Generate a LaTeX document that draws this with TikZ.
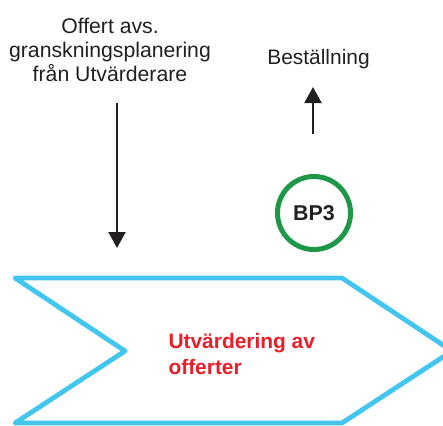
\documentclass[tikz,border=0pt]{standalone}
\usepackage{fontspec}
\setmainfont{Liberation Sans}
\usetikzlibrary{arrows.meta}
\definecolor{chevblue}{RGB}{66,198,240}
\definecolor{bpgreen}{RGB}{30,152,72}
\definecolor{titlered}{RGB}{232,30,40}
\definecolor{ink}{RGB}{35,31,32}
\tikzset{
  flow arrow/.style={draw=ink, line width=2.1pt, -{Triangle[width=17bp,length=16bp]}},
  milestone/.style={circle, draw=bpgreen, line width=5bp, minimum size=73bp, inner sep=0pt,
    font=\fontsize{21.5}{24}\selectfont\bfseries, text=ink},
  stage/.style={draw=chevblue, line width=4.8bp, line join=round}
}
\begin{document}
\begin{tikzpicture}[x=1bp,y=-1bp]
\useasboundingbox (0,0) rectangle (443,425);
\begin{scope}
\clip (0,0) rectangle (443,425);
% process stage chevron
\draw[stage] (15,278) -- (342,278) -- (452,351) -- (342,423) -- (15,423) -- (125,351) -- cycle;
\end{scope}
\node[font=\fontsize{21}{27}\selectfont\bfseries, text=titlered, align=left, anchor=west] (stg) at (165,354) {Utvärdering av\\offerter};

% incoming offer
\node[font=\fontsize{21.3}{24.5}\selectfont, text=ink, align=center] (offer) at (110,50) {Offert avs.\\granskningsplanering\\från Utvärderare};
\coordinate (offertop) at (117,103);
\coordinate (offerin) at (117,248);
\draw[flow arrow] (offertop) -- (offerin);

% milestone and order
\node[milestone] (bp3) at (314,213) {BP3};
\node[font=\fontsize{21}{24}\selectfont, text=ink, anchor=base] (order) at (318.5,64) {Beställning};
\coordinate (orderout) at (313,87);
\coordinate (orderfoot) at (313,134);
\draw[flow arrow] (orderfoot) -- (orderout);
\end{tikzpicture}
\end{document}
